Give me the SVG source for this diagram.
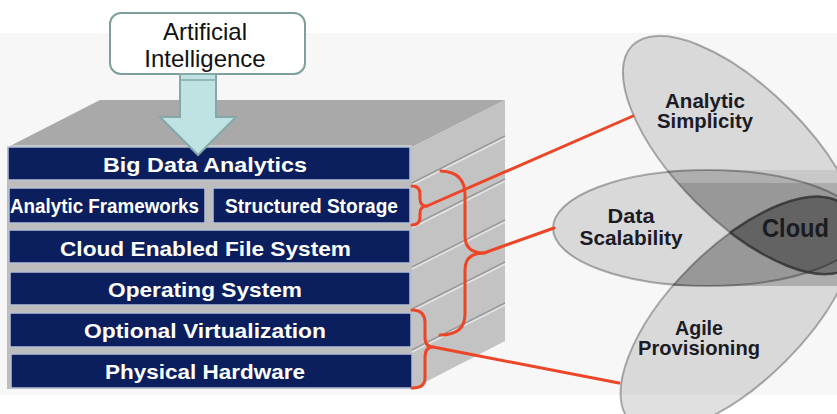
<svg xmlns="http://www.w3.org/2000/svg" width="837" height="414" viewBox="0 0 837 414">
<defs>
<style>
.bar{fill:#0b1f5e;stroke:#b7c1d6;stroke-width:1.5}
.bt{font-family:"Liberation Sans",Arial,sans-serif;font-weight:bold;font-size:21px;fill:#ffffff;text-anchor:middle}
.vt{font-family:"Liberation Sans",Arial,sans-serif;font-weight:bold;font-size:20px;fill:#1b1b26;text-anchor:middle}
.ai{font-family:"Liberation Sans",Arial,sans-serif;font-size:24px;fill:#111111;text-anchor:middle}
.red{fill:none;stroke:#ec4527;stroke-width:3;stroke-linecap:round;stroke-linejoin:round}
.ell{fill:#000000;fill-opacity:0.12;stroke:#000000;stroke-opacity:0.3;stroke-width:2}
.groove{stroke:#999999;stroke-width:1.5}
.hl{stroke:#e4e4e4;stroke-width:1.5}
</style>
<clipPath id="c1"><ellipse cx="742" cy="155" rx="155" ry="66" transform="rotate(45 742 155)"/></clipPath>
<clipPath id="c3"><ellipse cx="738" cy="314" rx="152" ry="67" transform="rotate(-45 738 314)"/></clipPath>
<clipPath id="c13">
<ellipse cx="742" cy="155" rx="155" ry="66" transform="rotate(45 742 155)"/>
<ellipse cx="738" cy="314" rx="152" ry="67" transform="rotate(-45 738 314)"/>
</clipPath>
</defs>

<rect x="0" y="33" width="837" height="362" fill="#f7f7f7"/>

<g id="stack">
<polygon points="8,147 100,100 505,100 412,147" fill="#a9a9a9"/>
<line x1="10" y1="146" x2="412" y2="146" stroke="#d6d6d6" stroke-width="1.5"/>
<polygon points="412,147 505,100 505,341 412,389" fill="#c3c3c3"/>
<rect x="7" y="147" width="405" height="242" fill="#bdbdbd"/>
<g>
<line class="groove" x1="412" y1="183" x2="505" y2="136"/><line class="hl" x1="412" y1="185" x2="505" y2="138"/>
<line class="groove" x1="412" y1="226" x2="505" y2="179"/><line class="hl" x1="412" y1="228" x2="505" y2="181"/>
<line class="groove" x1="412" y1="267" x2="505" y2="220"/><line class="hl" x1="412" y1="269" x2="505" y2="222"/>
<line class="groove" x1="412" y1="309" x2="505" y2="262"/><line class="hl" x1="412" y1="311" x2="505" y2="264"/>
<line class="groove" x1="412" y1="350" x2="505" y2="303"/><line class="hl" x1="412" y1="352" x2="505" y2="305"/>
</g>
<g id="layer-bda"><rect class="bar" x="8" y="147" width="402" height="33"/><text class="bt" x="205" y="172" textLength="204" lengthAdjust="spacingAndGlyphs">Big Data Analytics</text></g>
<g id="layer-af"><rect class="bar" x="9" y="188" width="196" height="35"/><text class="bt" x="104.5" y="213" textLength="189" lengthAdjust="spacingAndGlyphs">Analytic Frameworks</text></g>
<g id="layer-ss"><rect class="bar" x="213" y="188" width="197" height="35"/><text class="bt" x="311.5" y="213" textLength="173" lengthAdjust="spacingAndGlyphs">Structured Storage</text></g>
<g id="layer-cefs"><rect class="bar" x="9" y="230" width="401" height="33"/><text class="bt" x="205.5" y="256" textLength="291" lengthAdjust="spacingAndGlyphs">Cloud Enabled File System</text></g>
<g id="layer-os"><rect class="bar" x="10" y="272" width="400" height="33"/><text class="bt" x="205" y="297" textLength="194" lengthAdjust="spacingAndGlyphs">Operating System</text></g>
<g id="layer-ov"><rect class="bar" x="10" y="313" width="401" height="34"/><text class="bt" x="205" y="338" textLength="242" lengthAdjust="spacingAndGlyphs">Optional Virtualization</text></g>
<g id="layer-ph"><rect class="bar" x="11" y="354" width="401" height="34"/><text class="bt" x="205" y="379" textLength="200" lengthAdjust="spacingAndGlyphs">Physical Hardware</text></g>
</g>

<g id="ai-box">
<rect x="110" y="13" width="195" height="61" rx="11" fill="#ffffff" stroke="#7f9e9e" stroke-width="2"/>
<text class="ai" x="205" y="40">Artificial</text>
<text class="ai" x="205" y="67">Intelligence</text>
</g>

<g id="ai-arrow">
<polygon points="180,74 216,74 216,117 236,117 198,155 160,117 180,117" fill="#bfe2e2" stroke="#86a8a8" stroke-width="2" stroke-linejoin="miter"/>
<line x1="181" y1="80" x2="215" y2="80" stroke="#86a8a8" stroke-width="1.5"/>
</g>

<g id="venn">
<g id="analytic-simplicity"><ellipse class="ell" cx="742" cy="155" rx="155" ry="66" transform="rotate(45 742 155)"/></g>
<g id="data-scalability"><ellipse class="ell" cx="708" cy="228" rx="155" ry="58"/></g>
<g id="agile-provisioning"><ellipse class="ell" cx="738" cy="314" rx="152" ry="67" transform="rotate(-45 738 314)"/></g>
<g clip-path="url(#c13)">
<rect x="640" y="170" width="197" height="13" fill="#000000" fill-opacity="0.08"/>
<rect x="640" y="183" width="197" height="103" fill="#000000" fill-opacity="0.2"/>
</g>
<g id="cloud">
<g clip-path="url(#c1)"><ellipse cx="738" cy="314" rx="152" ry="67" transform="rotate(-45 738 314)" fill="#000000" fill-opacity="0.25" stroke="#333333" stroke-opacity="0.7" stroke-width="2.5"/></g>
<g clip-path="url(#c3)"><ellipse cx="742" cy="155" rx="155" ry="66" transform="rotate(45 742 155)" fill="none" stroke="#333333" stroke-opacity="0.7" stroke-width="2.5"/></g>
<text x="762" y="237" font-family="'Liberation Sans',Arial,sans-serif" font-weight="bold" font-size="25" fill="#1b1b22" textLength="67" lengthAdjust="spacingAndGlyphs">Cloud</text>
</g>
<text class="vt" x="705" y="108" textLength="80" lengthAdjust="spacingAndGlyphs">Analytic</text>
<text class="vt" x="705" y="128" textLength="96" lengthAdjust="spacingAndGlyphs">Simplicity</text>
<text class="vt" x="631" y="223" textLength="47" lengthAdjust="spacingAndGlyphs">Data</text>
<text class="vt" x="631" y="245" textLength="103" lengthAdjust="spacingAndGlyphs">Scalability</text>
<text class="vt" x="699" y="335" textLength="48" lengthAdjust="spacingAndGlyphs">Agile</text>
<text class="vt" x="699" y="355" textLength="122" lengthAdjust="spacingAndGlyphs">Provisioning</text>
</g>

<g id="connectors">
<path class="red" d="M412,186 Q420,186 420,194 L420,199 Q420,206 427,206 Q420,206 420,213 L420,217 Q420,225 412,225"/>
<line class="red" x1="427" y1="206" x2="633" y2="116"/>
<path class="red" d="M441,171 Q465,172 465,195 L465,236 Q465,253 484,253 Q465,253 465,270 L465,314 Q465,335 440,335"/>
<line class="red" x1="484" y1="253" x2="554" y2="228"/>
<path class="red" d="M412,310 Q425,310 425,323 L425,337 Q425,347 433,347 Q425,347 425,357 L425,378 Q425,388 412,388"/>
<line class="red" x1="433" y1="347" x2="619" y2="383"/>
</g>
</svg>
